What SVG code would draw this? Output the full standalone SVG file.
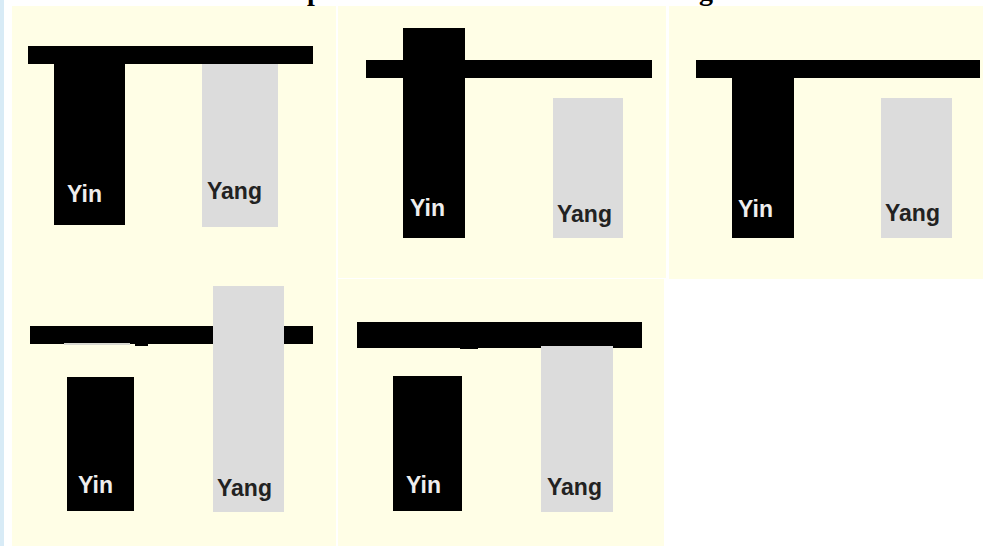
<svg xmlns="http://www.w3.org/2000/svg" width="983" height="546" viewBox="0 0 983 546">
<style>
.bg{fill:#fffee6}
.bar{fill:#000}
.yin{fill:#000}
.yang{fill:#dcdcdc}
.tyin{font-family:"Liberation Sans",Arial,sans-serif;font-weight:bold;font-size:23px;fill:#eeeeee}
.tyang{font-family:"Liberation Sans",Arial,sans-serif;font-weight:bold;font-size:23px;fill:#222222}
.title{font-family:"Liberation Serif","Times New Roman",serif;font-weight:bold;font-size:28px;fill:#000}
</style>
<rect x="0" y="0" width="983" height="546" fill="#ffffff"/>
<rect x="0" y="0" width="4" height="546" fill="#d8ebf6"/>
<g id="title">
<text class="title" x="307" y="0">p</text>
<text class="title" x="699" y="0">g</text>
</g>
<g id="panel1">
<rect class="bg" x="12" y="6" width="324" height="274"/>
<rect class="yang" x="202" y="64" width="76" height="163"/>
<rect class="yin" x="54" y="63" width="71" height="162"/>
<rect class="bar" x="28" y="46" width="285" height="18"/>
<text class="tyin" x="67" y="202">Yin</text>
<text class="tyang" x="207" y="199">Yang</text>
</g>
<g id="panel2">
<rect class="bg" x="338" y="6" width="328" height="272"/>
<rect class="bar" x="366" y="60" width="286" height="18"/>
<rect class="yin" x="403" y="28" width="62" height="210"/>
<rect class="yang" x="553" y="98" width="70" height="140"/>
<text class="tyin" x="410" y="216">Yin</text>
<text class="tyang" x="557" y="222">Yang</text>
</g>
<g id="panel3">
<rect class="bg" x="669" y="6" width="314" height="273"/>
<rect class="bar" x="696" y="60" width="284" height="18"/>
<rect class="yin" x="732" y="77" width="62" height="161"/>
<rect class="yang" x="881" y="98" width="71" height="140"/>
<text class="tyin" x="738" y="217">Yin</text>
<text class="tyang" x="885" y="221">Yang</text>
</g>
<g id="panel4">
<rect class="bg" x="12" y="280" width="324" height="266"/>
<rect class="bar" x="30" y="326" width="283" height="18"/>
<rect x="135" y="343" width="13" height="3" fill="#000"/>
<rect x="64" y="343" width="66" height="2" fill="#d8d8d0"/>
<rect class="yang" x="213" y="286" width="71" height="226"/>
<rect class="yin" x="67" y="377" width="67" height="134"/>
<text class="tyin" x="78" y="493">Yin</text>
<text class="tyang" x="217" y="496">Yang</text>
</g>
<g id="panel5">
<rect class="bg" x="338" y="279" width="326" height="267"/>
<rect class="bar" x="357" y="322" width="285" height="26"/>
<rect x="460" y="346" width="18" height="3" fill="#000"/>
<rect class="yang" x="541" y="346" width="72" height="166"/>
<rect class="yin" x="393" y="376" width="69" height="135"/>
<text class="tyin" x="406" y="493">Yin</text>
<text class="tyang" x="547" y="495">Yang</text>
</g>
</svg>
